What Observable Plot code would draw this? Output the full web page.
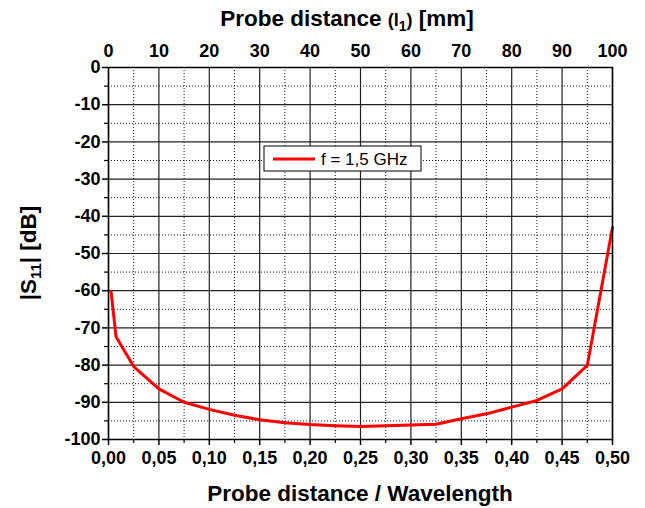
<!DOCTYPE html>
<html>
<head>
<meta charset="utf-8">
<script src="https://cdn.jsdelivr.net/npm/d3@7"></script>
<script src="https://cdn.jsdelivr.net/npm/@observablehq/plot@0.6"></script>
<style>
  html, body { margin: 0; padding: 0; background: #fff; }
  #chart svg { font-family: "Liberation Sans", Arial, sans-serif; }
</style>
</head>
<body>
<div id="chart"></div>
<script>
// Data
const wavelength = [0.0025, 0.0075, 0.025, 0.05, 0.075, 0.1, 0.125, 0.15, 0.175, 0.2, 0.225, 0.25, 0.275, 0.3, 0.325, 0.35, 0.375, 0.4, 0.425, 0.45, 0.475, 0.5];
const s11 = [-60.2, -72.4, -80.4, -86.4, -90.0, -91.9, -93.5, -94.7, -95.5, -96.0, -96.3, -96.5, -96.3, -96.1, -95.9, -94.4, -93.1, -91.3, -89.5, -86.4, -80.1, -43.0];
const xMajor = [0, 0.05, 0.1, 0.15, 0.2, 0.25, 0.3, 0.35, 0.4, 0.45, 0.5];
const xMinor = [0.025, 0.075, 0.125, 0.175, 0.225, 0.275, 0.325, 0.375, 0.425, 0.475];
const yMajor = [0, -10, -20, -30, -40, -50, -60, -70, -80, -90, -100];
const yMinor = [-5, -15, -25, -35, -45, -55, -65, -75, -85, -95];
const mmPerWavelength = 200; // top axis: 0..100 mm
const legendLabel = "f = 1,5 GHz";

const data = wavelength.map((x, i) => ({x, y: s11[i]}));
const comma = d => d3.format(".2f")(d).replace(".", ",");

const W = 645, H = 508;
const mL = 108, mR = 33, mT = 67, mB = 69;

const chart = Plot.plot({
  width: W, height: H,
  marginLeft: mL, marginRight: mR, marginTop: mT, marginBottom: mB,
  style: {fontFamily: "Liberation Sans, Arial, sans-serif", background: "#fff", overflow: "visible"},
  x: {domain: [0, 0.5]},
  y: {domain: [-100, 0]},
  marks: [
    Plot.gridX(xMinor, {stroke: "#000", strokeOpacity: 0.9, strokeDasharray: "1,2", strokeWidth: 1}),
    Plot.gridY(yMinor, {stroke: "#000", strokeOpacity: 0.9, strokeDasharray: "1,2", strokeWidth: 1}),
    Plot.gridX(xMajor, {stroke: "#222", strokeOpacity: 1, strokeWidth: 1.2}),
    Plot.gridY(yMajor, {stroke: "#222", strokeOpacity: 1, strokeWidth: 1.2}),
    Plot.line(data, {x: "x", y: "y", stroke: "#ff0000", strokeWidth: 3}),
    Plot.frame({stroke: "#000", strokeWidth: 1.5}),
    Plot.axisX(xMajor, {anchor: "bottom", tickSize: 6, tickPadding: 6, tickFormat: comma, fontSize: 18, fontWeight: "bold", fill: "#000", label: null, strokeWidth: 1.5}),
    Plot.axisX(xMinor, {anchor: "bottom", tickSize: 4, tickFormat: () => "", label: null, strokeWidth: 1.2}),
    Plot.axisY(yMajor, {anchor: "left", tickSize: 6, tickPadding: 2, tickFormat: d => String(d), fontSize: 18, fontWeight: "bold", fill: "#000", label: null, strokeWidth: 1.5}),
    Plot.axisY(yMinor, {anchor: "left", tickSize: 4, tickFormat: () => "", label: null, strokeWidth: 1.2}),
    Plot.axisX(xMajor, {anchor: "top", tickSize: 0, tickPadding: 11, tickFormat: d => String(Math.round(d * mmPerWavelength)), fontSize: 18, fontWeight: "bold", fill: "#000", label: null})
  ]
});

document.getElementById("chart").appendChild(chart);

const svg = d3.select(chart);
const cx = mL + (W - mL - mR) / 2;

// Bottom title
svg.append("text")
  .attr("x", cx).attr("y", 501)
  .attr("text-anchor", "middle")
  .attr("font-size", 22.5).attr("font-weight", "bold").attr("fill", "#000")
  .text("Probe distance / Wavelength");

// Top title with subscript
const topTitle = svg.append("text")
  .attr("x", 347).attr("y", 26)
  .attr("text-anchor", "middle")
  .attr("font-size", 22.5).attr("font-weight", "bold").attr("fill", "#000");
topTitle.append("tspan").text("Probe distance ");
topTitle.append("tspan").attr("font-size", 18).text("(l");
topTitle.append("tspan").attr("font-size", 14).attr("dy", 5).text("1");
topTitle.append("tspan").attr("font-size", 18).attr("dy", -5).text(")");
topTitle.append("tspan").text(" [mm]");

// Y title rotated with subscript
const yTitle = svg.append("text")
  .attr("transform", `translate(36,${mT + (H - mT - mB) / 2}) rotate(-90)`)
  .attr("text-anchor", "middle")
  .attr("font-size", 22.5).attr("font-weight", "bold").attr("fill", "#000");
yTitle.append("tspan").text("|S");
yTitle.append("tspan").attr("font-size", 15).attr("dy", 5).text("11");
yTitle.append("tspan").attr("dy", -5).text("| [dB]");

// Legend box
const lg = svg.append("g").attr("transform", "translate(264,146)");
lg.append("rect").attr("width", 157).attr("height", 25).attr("fill", "#fff").attr("stroke", "#000").attr("stroke-width", 1);
lg.append("line").attr("x1", 9).attr("x2", 51).attr("y1", 13).attr("y2", 13).attr("stroke", "#ff0000").attr("stroke-width", 3);
lg.append("text").attr("x", 57).attr("y", 19).attr("text-anchor", "start").attr("font-size", 17).attr("fill", "#000").text(legendLabel);
</script>
</body>
</html>
